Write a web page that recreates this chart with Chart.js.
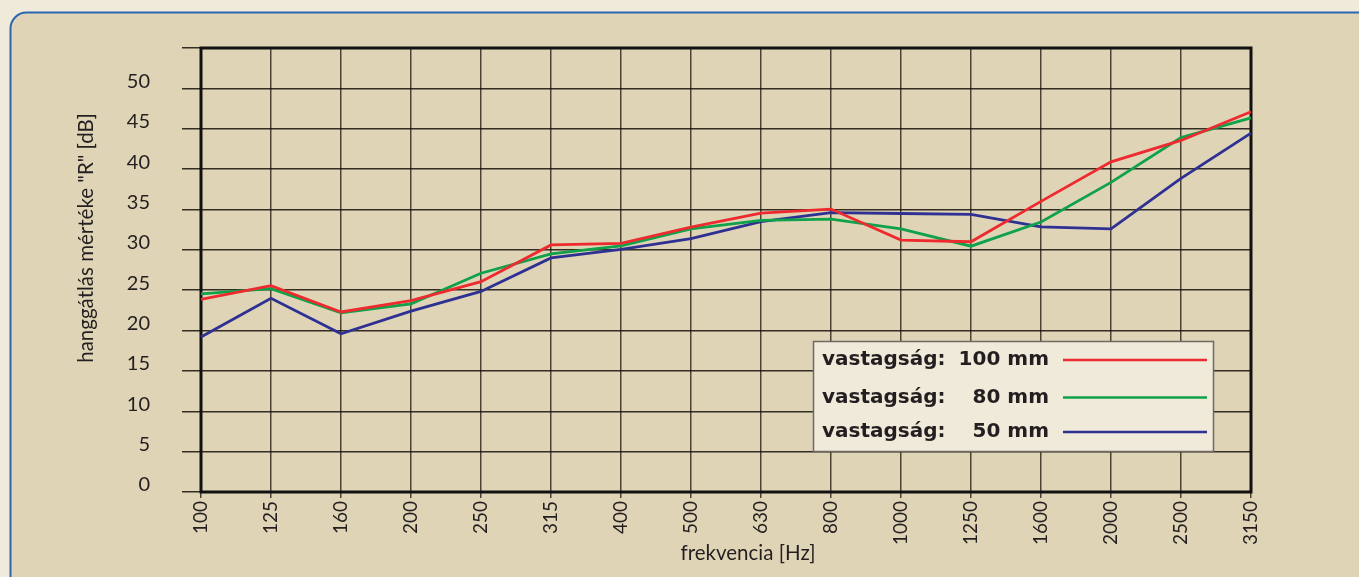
<!DOCTYPE html>
<html><head><meta charset="utf-8">
<script src="https://cdn.jsdelivr.net/npm/chart.js@4.4.1/dist/chart.umd.min.js"></script>
<style>html,body{margin:0;padding:0;background:#f0eadb;overflow:hidden}#wrap{width:1359px;height:577px;position:relative}</style>
</head><body><div id="wrap"><canvas id="c" width="1359" height="577"></canvas></div>
<script>
const categories = ['100','125','160','200','250','315','400','500','630','800','1000','1250','1600','2000','2500','3150'];
const r100mm = [23.85,25.55,22.3,23.7,26.05,30.6,30.8,32.8,34.55,35.05,31.2,31.0,36.0,40.9,43.55,47.1];
const r80mm  = [24.55,25.2,22.2,23.3,27.1,29.5,30.5,32.6,33.65,33.8,32.6,30.45,33.45,38.35,43.9,46.35];
const r50mm  = [19.2,24.0,19.6,22.4,24.85,29.0,30.05,31.4,33.5,34.6,34.5,34.4,32.85,32.6,38.85,44.45];
const yTickValues = [0,5,10,15,20,25,30,35,40,45,50,55];
const yTickLabels = ['0','5','10','15','20','25','30','35','40','45','50',''];
const legendPrefix = 'vastagság:';
const thicknessLabels = ['100 mm','80 mm','50 mm'];
const xTitle = 'frekvencia [Hz]';
const yTitle = 'hanggátlás mértéke "R" [dB]';

const FONT = 'Lato, "Open Sans", sans-serif';

const bgPlugin = {
  id: 'bg',
  beforeDraw(chart) {
    const ctx = chart.ctx;
    ctx.save();
    ctx.fillStyle = '#f0eadb';
    ctx.fillRect(0, 0, chart.width, chart.height);
    const x = 10.5, y = 12.5, r = 16, w = chart.width + 20, h = chart.height + 20;
    ctx.beginPath();
    ctx.moveTo(x + r, y);
    ctx.lineTo(x + w, y);
    ctx.lineTo(x + w, y + h);
    ctx.lineTo(x, y + h);
    ctx.lineTo(x, y + r);
    ctx.arcTo(x, y, x + r, y, r);
    ctx.closePath();
    ctx.fillStyle = '#e0d4b7';
    ctx.fill();
    ctx.lineWidth = 2;
    ctx.strokeStyle = '#2a66b0';
    ctx.stroke();
    ctx.restore();
  },
  beforeDatasetsDraw(chart) {
    const {ctx, chartArea: a} = chart;
    ctx.save();
    ctx.lineWidth = 3;
    ctx.strokeStyle = '#111';
    ctx.strokeRect(a.left, a.top, a.right - a.left, a.bottom - a.top);
    ctx.restore();
  },
  afterDraw(chart) {
    const ctx = chart.ctx;
    ctx.save();
    ctx.fillStyle = '#231f20';
    ctx.font = '20.5px ' + FONT;
    ctx.textAlign = 'center';
    ctx.textBaseline = 'middle';
    ctx.fillText(xTitle, 748, 553);
    ctx.translate(86, 238);
    ctx.rotate(-Math.PI / 2);
    ctx.fillText(yTitle, 0, 0);
    ctx.restore();
  }
};

const legendPlugin = {
  id: 'customLegend',
  afterDraw(chart) {
    const ctx = chart.ctx;
    const bx = 813.5, by = 341.5, bw = 400, bh = 110;
    ctx.save();
    ctx.fillStyle = '#f0eadb';
    ctx.fillRect(bx, by, bw, bh);
    ctx.lineWidth = 1.5;
    ctx.strokeStyle = '#6e6a62';
    ctx.strokeRect(bx, by, bw, bh);
    ctx.font = 'bold 20px "DejaVu Sans", sans-serif';
    ctx.textBaseline = 'middle';
    const rows = [360, 397.5, 432];
    chart.data.datasets.forEach((ds, i) => {
      const yy = rows[i];
      ctx.fillStyle = '#231f20';
      ctx.textAlign = 'left';
      ctx.fillText(legendPrefix, 822, yy);
      ctx.textAlign = 'right';
      ctx.fillText(thicknessLabels[i], 1049, yy);
      ctx.beginPath();
      ctx.moveTo(1063, yy);
      ctx.lineTo(1207, yy);
      ctx.lineWidth = 2.5;
      ctx.strokeStyle = ds.borderColor;
      ctx.stroke();
    });
    ctx.restore();
  }
};

new Chart(document.getElementById('c'), {
  type: 'line',
  data: {
    labels: categories,
    datasets: [
      {label: legendPrefix + ' ' + thicknessLabels[0], data: r100mm, borderColor: '#ee2a2e', borderWidth: 2.8, pointRadius: 0, tension: 0},
      {label: legendPrefix + ' ' + thicknessLabels[1], data: r80mm, borderColor: '#0fa24a', borderWidth: 2.8, pointRadius: 0, tension: 0},
      {label: legendPrefix + ' ' + thicknessLabels[2], data: r50mm, borderColor: '#2e3192', borderWidth: 2.8, pointRadius: 0, tension: 0}
    ]
  },
  options: {
    responsive: false,
    animation: false,
    devicePixelRatio: 1,
    layout: {padding: {left: 70, right: 108, top: 48, bottom: 0}},
    plugins: {legend: {display: false}, tooltip: {enabled: false}},
    scales: {
      x: {
        offset: false,
        afterFit(s) { s.height = 85; },
        grid: {color: 'rgba(40,30,20,0.8)', lineWidth: 1.5, tickLength: 6, drawTicks: true},
        border: {display: false},
        ticks: {minRotation: 90, maxRotation: 90, autoSkip: false, padding: 3, color: '#231f20', font: {family: FONT, size: 19}},
        title: {display: false, text: xTitle}
      },
      y: {
        min: 0, max: 55,
        afterFit(s) { s.width = 131; },
        afterBuildTicks(s) { s.ticks = yTickValues.map(v => ({value: v})); },
        grid: {color: 'rgba(20,15,10,0.85)', lineWidth: 1.5, tickLength: 19, drawTicks: true},
        border: {display: false},
        ticks: {
          padding: 32, labelOffset: -7, color: '#231f20', font: {family: FONT, size: 20},
          callback(v) { const i = yTickValues.indexOf(v); return i >= 0 ? yTickLabels[i] : ''; }
        },
        title: {display: false, text: yTitle}
      }
    }
  },
  plugins: [bgPlugin, legendPlugin]
});
</script></body></html>
